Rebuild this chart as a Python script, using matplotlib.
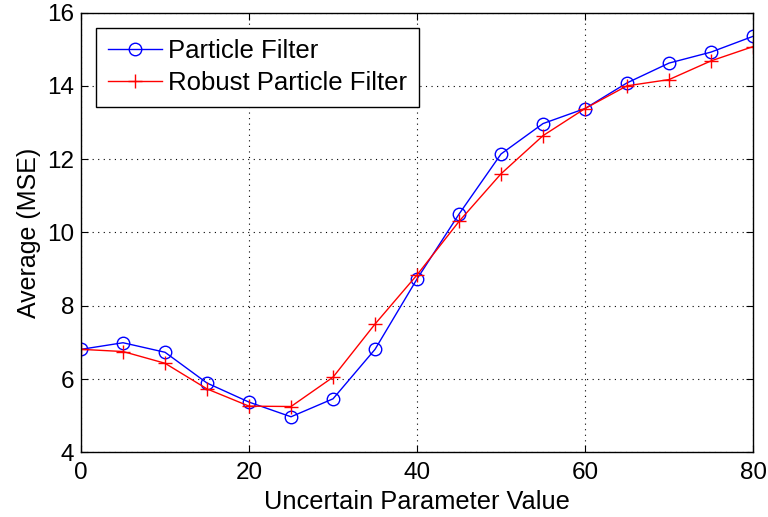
import matplotlib
matplotlib.use("Agg")
import matplotlib.pyplot as plt

plt.rcParams['font.family'] = ['Liberation Sans', 'DejaVu Sans']

x_values = [0, 5, 10, 15, 20, 25, 30, 35, 40, 45, 50, 55, 60, 65, 70, 75, 80]
pf_mse = [6.81, 6.99, 6.73, 5.89, 5.37, 4.97, 5.46, 6.81, 8.73, 10.50, 12.14, 12.97, 13.38, 14.08, 14.62, 14.92, 15.35]
rpf_mse = [6.81, 6.75, 6.43, 5.73, 5.26, 5.25, 6.05, 7.50, 8.84, 10.30, 11.60, 12.64, 13.38, 14.00, 14.17, 14.68, 15.07]
x_ticks = [0, 20, 40, 60, 80]
y_ticks = [4, 6, 8, 10, 12, 14, 16]

fig = plt.figure(figsize=(7.68, 5.17), dpi=100)
ax = fig.add_axes([0.1055, 0.1251, 0.875, 0.8507])

ax.plot(x_values, pf_mse, color='#0000ff', marker='o', markersize=9, markerfacecolor='none',
        markeredgecolor='#0000ff', linewidth=1.0, label='Particle Filter')
ax.plot(x_values, rpf_mse, color='#ff0000', marker='+', markersize=10, markeredgewidth=1.0,
        linewidth=1.0, label='Robust Particle Filter')

ax.set_xlim(0, 80)
ax.set_ylim(4, 16)
ax.set_xticks(x_ticks)
ax.set_yticks(y_ticks)
ax.tick_params(direction='in', top=True, right=True, labelsize=17.5, length=5, width=0.8)
ax.tick_params(axis='x', pad=7)
ax.tick_params(axis='y', pad=5)
ax.grid(True, linestyle=(0, (1, 4)), color='black', linewidth=0.8)
for s in ax.spines.values():
    s.set_linewidth(1.0)

ax.set_xlabel('Uncertain Parameter Value', fontsize=18.3, labelpad=4)
ax.set_ylabel('Average (MSE)', fontsize=18, labelpad=4)

leg = ax.legend(loc='upper left', fontsize=18.5, fancybox=False, framealpha=1,
                edgecolor='black', borderaxespad=0.6, handlelength=2.1, handletextpad=0.25,
                borderpad=0.45, labelspacing=0.3)
leg.get_frame().set_linewidth(1.0)

fig.savefig('out.png', dpi=100)
